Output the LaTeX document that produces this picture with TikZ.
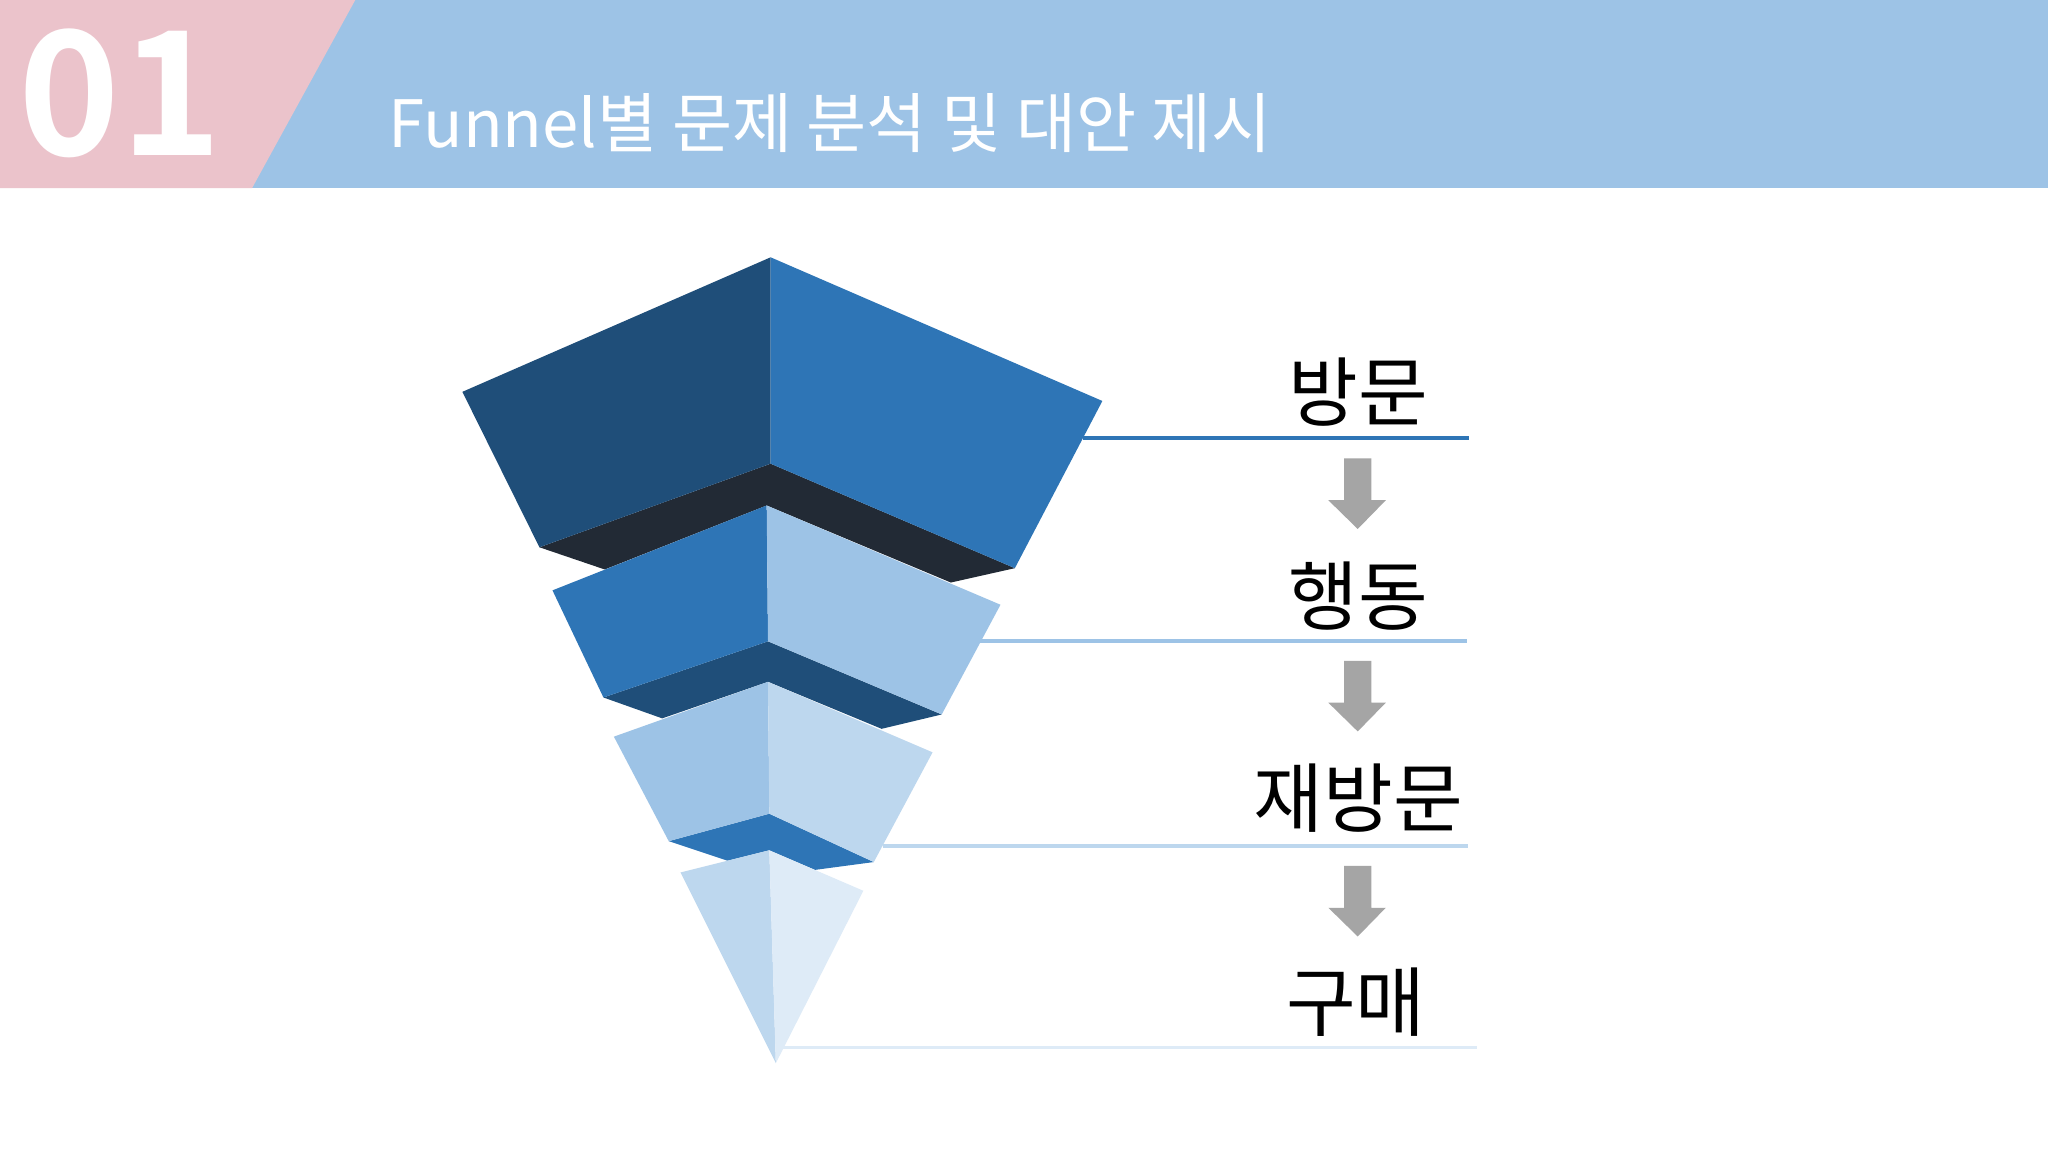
\documentclass[tikz,border=0pt]{standalone}
\usepackage{fontspec}
\newfontfamily\kr{Noto Sans CJK KR}
\newfontfamily\krb{Noto Sans CJK KR Bold}
\definecolor{pinkh}{HTML}{EBC3CB}
\definecolor{blueh}{HTML}{9DC3E6}
\definecolor{c1}{HTML}{1F4E79}
\definecolor{c2}{HTML}{2E75B6}
\definecolor{c3}{HTML}{9DC3E6}
\definecolor{c4}{HTML}{BDD7EE}
\definecolor{c5}{HTML}{DEEBF7}
\definecolor{cd}{HTML}{222A35}
\definecolor{ag}{HTML}{A5A5A5}
\tikzset{lbl/.style={font=\kr\fontsize{29pt}{30pt}\selectfont, anchor=base, inner sep=0pt},
 gline/.style={line width=1.5pt},
 darr/.style={fill=ag}}
\begin{document}
\begin{tikzpicture}[x=0.5pt,y=-0.5pt]
\useasboundingbox (0,0) rectangle (1568,882);
\fill[white] (0,0) rectangle (1568,882);
\fill[blueh] (0,0) rectangle (1568,144);
\fill[pinkh] (0,0) -- (272,0) -- (193,144) -- (0,144) -- cycle;
\node[anchor=base west, inner sep=0pt, text=white, font=\krb\fontsize{66pt}{66pt}\selectfont] (num) at (14,119) {01};
\node[anchor=base west, inner sep=0pt, text=white, font=\kr\fontsize{25pt}{26pt}\selectfont] (title) at (297,113) {Funnel별 문제 분석 및 대안 제시};
% lines
\coordinate (l1a) at (829,335); \coordinate (l1b) at (1125,335);
\coordinate (l2a) at (750,491); \coordinate (l2b) at (1123,491);
\coordinate (l3a) at (676,648); \coordinate (l3b) at (1124,648);
\coordinate (l4a) at (597,802); \coordinate (l4b) at (1131,802);
\draw[gline,c2] (l1a) -- (l1b);
\draw[gline,c3] (l2a) -- (l2b);
\draw[gline,c4] (l3a) -- (l3b);
\draw[gline,c5] (l4a) -- (l4b);
% funnel
\fill[cd] (413,419) -- (590,355) -- (777,435) -- (728,446) -- (587,387) -- (463,436) -- cycle;
\fill[c1] (354,300) -- (590,197) -- (590,355) -- (413,419) -- cycle;
\fill[c2] (590,197) -- (844,307) -- (777,435) -- (590,355) -- cycle;
\fill[c1] (462,534) -- (588,491) -- (721,547) -- (675,558) -- (588,522) -- (507,550) -- cycle;
\fill[c2] (423,452) -- (587,387) -- (588,491) -- (462,534) -- cycle;
\fill[c3] (587,387) -- (766,463) -- (721,547) -- (588,491) -- cycle;
\fill[c2] (512,644) -- (589,623) -- (669,660) -- (624,666) -- (589,651) -- (557,659) -- cycle;
\fill[c3] (470,564) -- (588,522) -- (589,623) -- (512,644) -- cycle;
\fill[c4] (588,522) -- (714,576) -- (669,660) -- (589,623) -- cycle;
\fill[c4] (521,668) -- (589,651) -- (594,814) -- cycle;
\fill[c5] (589,651) -- (661,682) -- (594,814) -- cycle;
% labels
\node[lbl] (s1) at (1040,322) {방문};
\node[lbl] (s2) at (1040,478) {행동};
\node[lbl] (s3) at (1040,633) {재방문};
\node[lbl] (s4) at (1038,789) {구매};
% arrows
\foreach \t in {351,506,663}{
 \fill[ag] (1029,\t) -- (1050,\t) -- (1050,\t+32) -- (1061,\t+32) -- (1039.5,\t+54) -- (1017,\t+32) -- (1029,\t+32) -- cycle;
}
\end{tikzpicture}
\end{document}
